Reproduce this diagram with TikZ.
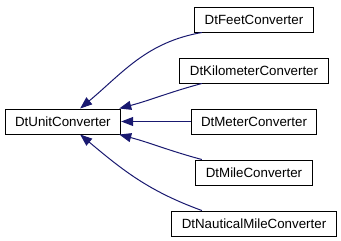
\documentclass[tikz,border=0pt]{standalone}
\usepackage{fontspec}
\setmainfont{Liberation Sans}
\usetikzlibrary{arrows.meta,positioning}
\definecolor{edgeblue}{RGB}{25,25,112}

\begin{document}
\begin{tikzpicture}[
    x=0.75pt, y=0.75pt,
    node distance=18.75pt and 52pt,
    cls/.style={draw=black, rectangle, fill=white, line width=0.75pt, inner xsep=7.5pt, inner ysep=0pt, minimum height=18.75pt, font=\fontsize{10}{12}\selectfont},
    inherit/.style={-{Triangle[length=9pt,width=6.75pt]}, line width=0.75pt, color=edgeblue}
]
\useasboundingbox (0,0) rectangle (341,240);

% Derived classes
\node[cls] (feet) at (254,220.5) {DtFeetConverter};
\node[cls, below=of feet] (kilo) {DtKilometerConverter};
\node[cls, below=of kilo] (meter) {DtMeterConverter};
\node[cls, below=of meter] (mile) {DtMileConverter};
\node[cls, below=of mile] (naut) {DtNauticalMileConverter};

% Base class
\node[cls, left=of meter] (unit) {DtUnitConverter};

\draw[inherit] (feet.194) to[out=190,in=40] (unit.37);
\draw[inherit] (kilo.194) to[out=195,in=15] (unit.13);
\draw[inherit] (meter) -- (unit);
\draw[inherit] (mile.166) to[out=165,in=-15] (unit.-13);
\draw[inherit] (naut.166) to[out=160,in=-40] (unit.-37);

\end{tikzpicture}
\end{document}
